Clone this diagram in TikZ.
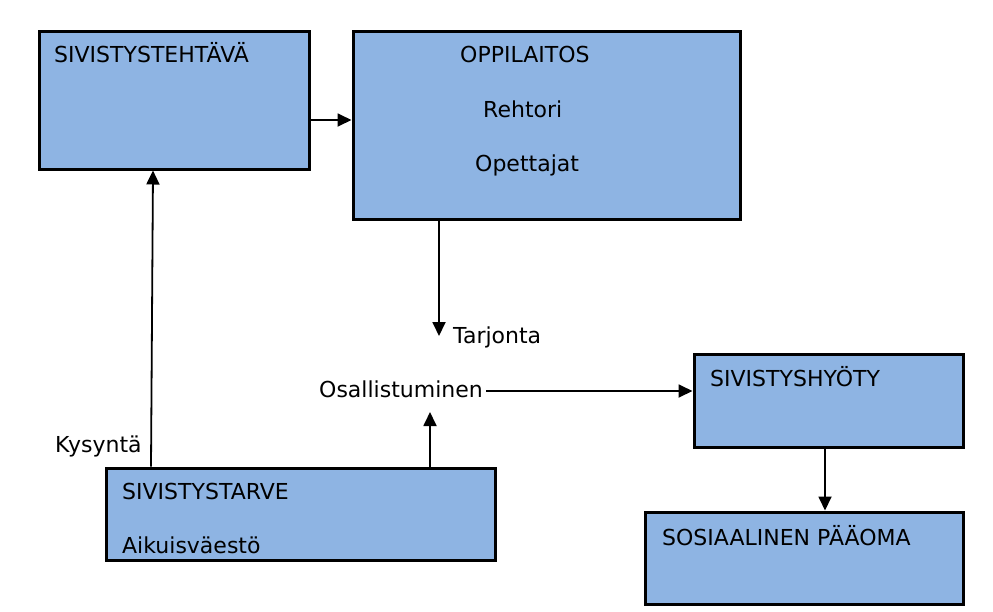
\documentclass[tikz,border=0pt]{standalone}
\usepackage{fontspec}
\setmainfont{DejaVu Sans}
\usetikzlibrary{arrows.meta}
\definecolor{boxblue}{HTML}{8EB4E3}
\begin{document}
\begin{tikzpicture}[x=1pt,y=-1pt,
  box/.style={draw=black,line width=3pt,fill=boxblue,inner sep=0pt},
  lbl/.style={anchor=base west,inner sep=0pt,font=\fontsize{22}{26}\selectfont},
  arr/.style={line width=1.8pt,-{Triangle[length=14pt,width=13pt]}}]
\useasboundingbox (0,0) rectangle (993,611);
% boxes
\node[box,minimum width=270pt,minimum height=138pt] (teh) at (174,100) {};
\node[box,minimum width=387pt,minimum height=188pt] (opp) at (546.5,125) {};
\node[box,minimum width=269pt,minimum height=93pt] (hyo) at (828.5,400.5) {};
\node[box,minimum width=318pt,minimum height=92pt] (pool) at (804,558) {};
\node[box,minimum width=389pt,minimum height=92pt] (tarve) at (300.5,514) {};
% texts
\node[lbl] (tehT) at (54,62) {SIVISTYSTEHTÄVÄ};
\node[lbl] (oppT) at (460,62) {OPPILAITOS};
\node[lbl] (rehT) at (483,117) {Rehtori};
\node[lbl] (opeT) at (475,171) {Opettajat};
\node[lbl] (tarj) at (453,343) {Tarjonta};
\node[lbl] (osal) at (319,397) {Osallistuminen};
\node[lbl] (kys) at (55,452) {Kysyntä};
\node[lbl] (hyoT) at (710,386) {SIVISTYSHYÖTY};
\node[lbl] (poolT) at (662,545) {SOSIAALINEN PÄÄOMA};
\node[lbl] (tarveT) at (122,499) {SIVISTYSTARVE};
\node[lbl] (aikT) at (122,553) {Aikuisväestö};
% connector coordinates
\coordinate (tarTip) at (439,336);
\coordinate (osalEnd) at (486,391);
\coordinate (upTip) at (430,412);
\coordinate (kysBot) at (151,0);
\coordinate (kysTop) at (153,0);
\coordinate (hyoX) at (825,0);
% connectors
\draw[arr] ([yshift=-20pt]teh.east) -- ([yshift=-20pt]teh.east -| opp.west);
\draw[arr] (opp.south -| tarTip) -- (tarTip);
\draw[arr] (osalEnd) -- (osalEnd -| hyo.west);
\draw[arr] (tarve.north -| upTip) -- (upTip);
\draw[arr] (tarve.north -| kysBot) -- (teh.south -| kysTop);
\draw[arr] (hyo.south -| hyoX) -- (pool.north -| hyoX);
\end{tikzpicture}
\end{document}
